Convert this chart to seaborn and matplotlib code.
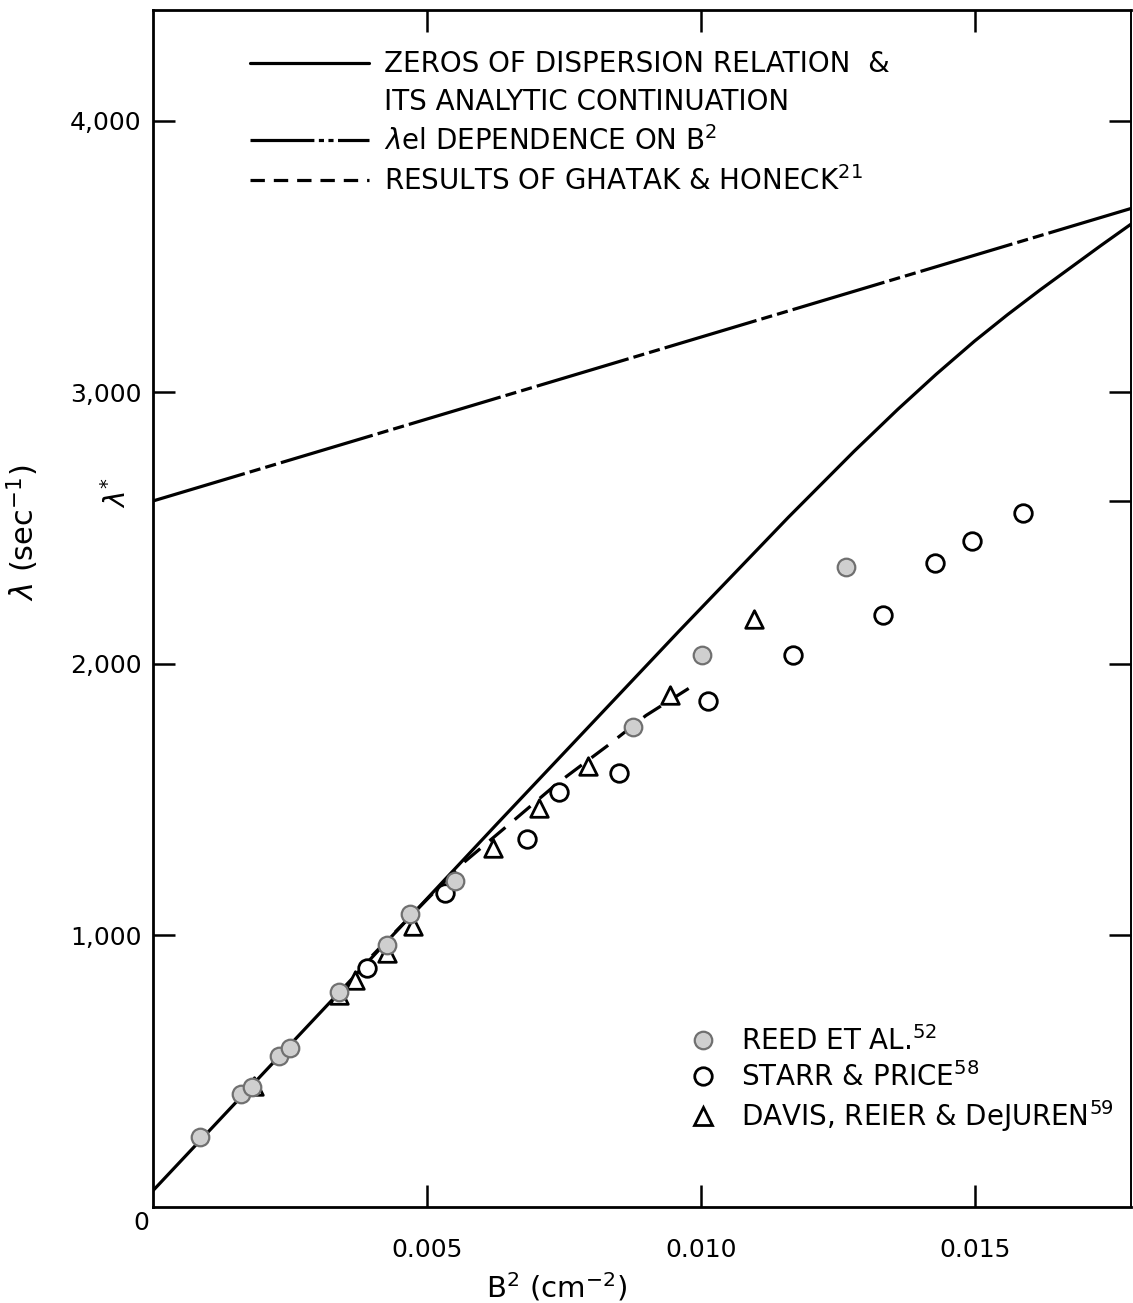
import matplotlib
matplotlib.use("Agg")
import matplotlib.pyplot as plt
import matplotlib.transforms as mtransforms
from matplotlib.lines import Line2D
import seaborn as sns

# ---------------- data ----------------
# zeros of dispersion relation & its analytic continuation (solid)
zeros_b2 = [0.0000, 0.0034, 0.0063, 0.0096, 0.0116, 0.0128, 0.0136, 0.0143, 0.0150, 0.0156, 0.0162, 0.0173, 0.0179]
zeros_lam = [60, 790, 1415, 2120, 2540, 2783, 2938, 3067, 3189, 3286, 3378, 3540, 3626]

# lambda_el dependence on B^2 (dash-dot)
lel_b2 = [0.0000, 0.0090, 0.0179]
lel_lam = [2600, 3143, 3680]

# results of Ghatak & Honeck (dashed)
gh_b2 = [0.0040, 0.0047, 0.0056, 0.0066, 0.0074, 0.0083, 0.0090, 0.0099]
gh_lam = [925, 1070, 1256, 1426, 1563, 1699, 1810, 1925]

# Reed et al. (grey filled circles)
reed_b2 = [0.00086, 0.0016, 0.0018, 0.0023, 0.0025, 0.0034, 0.00427, 0.0047, 0.00551, 0.00876, 0.01002, 0.01266]
reed_lam = [259, 415, 440, 555, 585, 790, 964, 1080, 1200, 1769, 2032, 2357]

# Starr & Price (open circles)
starr_b2 = [0.0039, 0.00533, 0.00683, 0.00741, 0.0085, 0.01013, 0.01168, 0.01332, 0.01427, 0.01496, 0.01588]
starr_lam = [879, 1156, 1356, 1529, 1600, 1862, 2032, 2180, 2372, 2453, 2556]

# Davis, Reier & DeJuren (open triangles)
davis_b2 = [0.00185, 0.0034, 0.00369, 0.00427, 0.00474, 0.0062, 0.00704, 0.00794, 0.00943, 0.01097]
davis_lam = [445, 780, 835, 935, 1034, 1322, 1470, 1625, 1884, 2165]

lambda_star = 2600

x_ticks = [0.005, 0.010, 0.015]
x_ticklabels = ["0.005", "0.010", "0.015"]
y_ticks = [1000, 2000, 3000, 4000]
y_ticklabels = ["1,000", "2,000", "3,000", "4,000"]

line_labels = ["ZEROS OF DISPERSION RELATION  &",
               "ITS ANALYTIC CONTINUATION",
               r"$\lambda$el DEPENDENCE ON B$^2$",
               r"RESULTS OF GHATAK & HONECK$^{21}$"]
point_labels = [r"REED ET AL.$^{52}$",
                r"STARR & PRICE$^{58}$",
                r"DAVIS, REIER & DeJUREN$^{59}$"]

# ---------------- styling ----------------
sns.set_theme(style="ticks")
plt.rcParams['font.family'] = ['DejaVu Sans']
plt.rcParams['mathtext.fontset'] = 'dejavusans'
for k in ['text.color', 'axes.labelcolor', 'xtick.color', 'ytick.color', 'axes.edgecolor']:
    plt.rcParams[k] = 'black'

FS = 20
TFS = 18
LW = 2.3
dashdot_pat = (0, (30, 1.6, 3.5, 1.6, 3.5, 1.6))
dashed_pat = (0, (6.5, 3.8))

fig = plt.figure(figsize=(11.33, 13.03), dpi=100)
ax = fig.add_axes([0.135, 0.0737, 0.863, 0.919])

sns.lineplot(x=zeros_b2, y=zeros_lam, ax=ax, color="black", lw=LW, sort=False, estimator=None)
ax.lines[-1].set_solid_joinstyle("round")
sns.lineplot(x=lel_b2, y=lel_lam, ax=ax, color="black", lw=LW, sort=False, estimator=None)
ax.lines[-1].set_linestyle(dashdot_pat)
sns.lineplot(x=gh_b2, y=gh_lam, ax=ax, color="black", lw=LW, sort=False, estimator=None)
ax.lines[-1].set_linestyle(dashed_pat)

MS = 160
sns.scatterplot(x=davis_b2, y=davis_lam, ax=ax, marker="^", s=MS,
                facecolor="white", edgecolor="black", linewidth=2.0, zorder=3)
sns.scatterplot(x=starr_b2, y=starr_lam, ax=ax, marker="o", s=MS,
                facecolor="white", edgecolor="black", linewidth=2.0, zorder=3)
sns.scatterplot(x=reed_b2, y=reed_lam, ax=ax, marker="o", s=MS,
                facecolor="#cfcfcf", edgecolor="#707070", linewidth=1.6, zorder=4)

ax.set_xlim(0, 0.01785)
ax.set_ylim(0, 4410)

ax.set_xticks(x_ticks)
ax.set_xticklabels(x_ticklabels)
ax.set_yticks(y_ticks)
ax.set_yticklabels(y_ticklabels)
ax.set_yticks([lambda_star], minor=True)
ax.tick_params(axis="both", which="major", direction="in", length=16, width=1.8,
               labelsize=TFS, top=True, right=True, colors="black")
ax.tick_params(axis="x", which="major", pad=22)
ax.tick_params(axis="y", which="major", pad=8)
ax.tick_params(axis="y", which="minor", direction="in", length=16, width=1.8,
               left=False, right=True, labelleft=False)
ax.tick_params(axis="x", which="minor", bottom=False, top=False)

for sp in ax.spines.values():
    sp.set_visible(True)
    sp.set_linewidth(2.0)
    sp.set_color("black")
ax.spines["right"].set_linewidth(1.4)

ax.set_xlabel(r"B$^2$ (cm$^{-2}$)", fontsize=21)
ax.xaxis.set_label_coords(0.413, -0.053)
ax.set_ylabel(r"$\lambda$ (sec$^{-1}$)", fontsize=22)
ax.yaxis.set_label_coords(-0.115, 0.563)

ax.text(-0.004, -0.003, "0", transform=ax.transAxes, ha="right", va="top", fontsize=TFS)
trans = mtransforms.blended_transform_factory(ax.transAxes, ax.transData)
ax.text(-0.037, lambda_star + 30, r"$\lambda^{*}$", transform=trans, rotation=90,
        ha="center", va="center", fontsize=20)

# legend for curves
h1 = [Line2D([], [], color="black", lw=LW, ls="-"),
      Line2D([], [], color="none", lw=0),
      Line2D([], [], color="black", lw=LW, ls=(0, (20, 1.4, 1.6, 1.4, 1.6, 1.4))),
      Line2D([], [], color="black", lw=LW, ls=(0, (4.5, 2.8)))]
leg1 = ax.legend(h1, line_labels, loc="upper left", bbox_to_anchor=(0.099, 0.966),
                 frameon=False, fontsize=FS, handlelength=4.3, handletextpad=0.55,
                 labelspacing=0.36, borderaxespad=0, borderpad=0)
ax.add_artist(leg1)

h2 = [Line2D([], [], ls="", marker="o", ms=12.6, mfc="#cfcfcf", mec="#707070", mew=1.6),
      Line2D([], [], ls="", marker="o", ms=12.6, mfc="white", mec="black", mew=2.0),
      Line2D([], [], ls="", marker="^", ms=12.6, mfc="white", mec="black", mew=2.0)]
ax.legend(h2, point_labels, loc="upper left", bbox_to_anchor=(0.545, 0.151),
          frameon=False, fontsize=FS, handlelength=1.2, handletextpad=0.8,
          labelspacing=0.22, borderaxespad=0, borderpad=0)

fig.savefig("out.png", dpi=100, facecolor="white")
